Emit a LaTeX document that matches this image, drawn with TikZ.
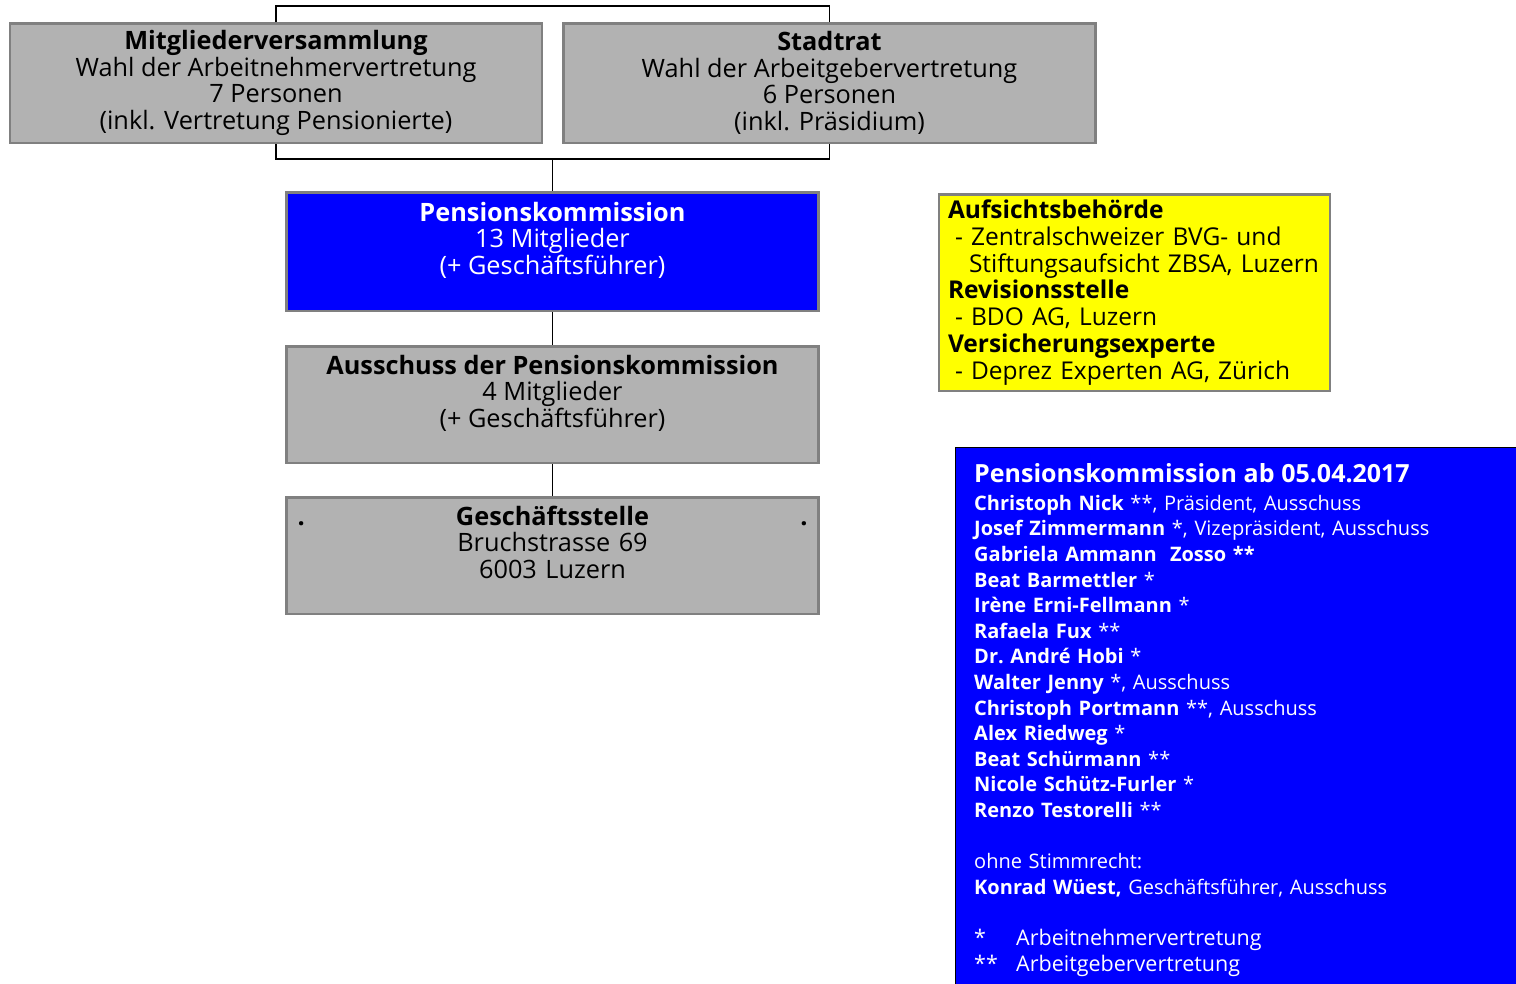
\documentclass[tikz,border=0pt]{standalone}
\usepackage{fontspec}
\setmainfont{Open Sans}
\usetikzlibrary{positioning}

\definecolor{boxgray}{HTML}{B2B2B2}
\definecolor{rimgray}{HTML}{808080}
\definecolor{pkblue}{HTML}{0000FF}
\definecolor{noteyellow}{HTML}{FFFF00}

\tikzset{
  orgbox/.style={draw=rimgray, line width=2.5pt, fill=boxgray, align=center,
    minimum width=532pt, inner sep=0pt, font=\fontsize{25.3}{26.5}\selectfont},
  link/.style={line width=1.3pt},
}
\newcommand{\starmark}[1]{\makebox[42pt][l]{#1}}

\begin{document}
\begin{tikzpicture}[x=1pt, y=-1pt]
    \useasboundingbox (0,0) rectangle (1516,983);
    \clip (0,0) rectangle (1516,983);
    % Wahlgremien
    \node[orgbox, minimum height=119.5pt] (mv) at (276,83)
        {\textbf{Mitgliederversammlung}\\Wahl der Arbeitnehmervertretung\\7 Personen\\(inkl. Vertretung Pensionierte)};
    \node[orgbox, minimum height=119.5pt] (st) at (829.5,83)
        {\textbf{Stadtrat}\\Wahl der Arbeitgebervertretung\\6 Personen\\(inkl. Präsidium)};
    % Pensionskommission
    \node[orgbox, fill=pkblue, text=white, minimum height=118.5pt] (pk) at (552.5,251.5)
        {\textbf{Pensionskommission}\\13 Mitglieder\\(+ Geschäftsführer)\\~};
    % Ausschuss
    \node[orgbox, minimum height=116.5pt] (au) at (552.5,404.5)
        {\textbf{Ausschuss der Pensionskommission}\\4 Mitglieder\\(+ Geschäftsführer)\\~};
    % Geschaeftsstelle
    \node[orgbox, minimum height=116.5pt, text width=510pt] (gs) at (552.5,555.5)
        {\textbf{.}\hfill\textbf{Geschäftsstelle}\hfill\textbf{.}\\Bruchstrasse 69\\6003 Luzern\\~};
    % Verbindungen
    \coordinate (tp) at (552.5,6);
    \coordinate (jn) at (552.5,159);
    \draw[link] (mv.north) |- (tp) -| (st.north);
    \draw[link] (mv.south) |- (jn) -| (st.south);
    \draw[link] (jn) -- (pk.north);
    \draw[link] (pk.south) -- (au.north);
    \draw[link] (au.south) -- (gs.north);
    % Aufsicht, Revision, Experte
    \node[draw=rimgray, line width=2.5pt, fill=noteyellow, align=left, text width=373pt,
          inner xsep=9pt, minimum height=196.5pt, font=\fontsize{24.5}{26.7}\selectfont] (ab) at (1134.5,292.5)
        {\textbf{Aufsichtsbehörde}\\
         \hspace*{7pt}- Zentralschweizer BVG- und\\
         \hspace*{21pt}Stiftungsaufsicht ZBSA, Luzern\\
         \textbf{Revisionsstelle}\\
         \hspace*{7pt}- BDO AG, Luzern\\
         \textbf{Versicherungsexperte}\\
         \hspace*{7pt}- Deprez Experten AG, Zürich};
    % Zusammensetzung
    \node[draw=black, line width=1pt, fill=pkblue, anchor=north west, minimum width=580pt,
          minimum height=560pt] (rosterbg) at (955,447) {};
    \node[anchor=north west, align=left, text width=530pt, inner sep=0pt, text=white,
          font=\fontsize{20}{25.6}\selectfont] (roster) at (974,463)
        {{\fontsize{25}{30}\selectfont\bfseries Pensionskommission ab 05.04.2017}\\[2.4pt]
         \textbf{Christoph Nick} **, Präsident, Ausschuss\\
         \textbf{Josef Zimmermann} *, Vizepräsident, Ausschuss\\
         \textbf{Gabriela Ammann\ \ Zosso **}\\
         \textbf{Beat Barmettler} *\\
         \textbf{Irène Erni-Fellmann} *\\
         \textbf{Rafaela Fux} **\\
         \textbf{Dr.\ André Hobi} *\\
         \textbf{Walter Jenny} *, Ausschuss\\
         \textbf{Christoph Portmann} **, Ausschuss\\
         \textbf{Alex Riedweg} *\\
         \textbf{Beat Schürmann} **\\
         \textbf{Nicole Schütz-Furler} *\\
         \textbf{Renzo Testorelli} **\\[25.6pt]
         ohne Stimmrecht:\\
         \textbf{Konrad Wüest,} Geschäftsführer, Ausschuss\\[25.6pt]
         {\fontsize{21.5}{25.6}\selectfont\starmark{*}Arbeitnehmervertretung}\\
         {\fontsize{21.5}{25.6}\selectfont\starmark{**}Arbeitgebervertretung}};
\end{tikzpicture}
\end{document}
